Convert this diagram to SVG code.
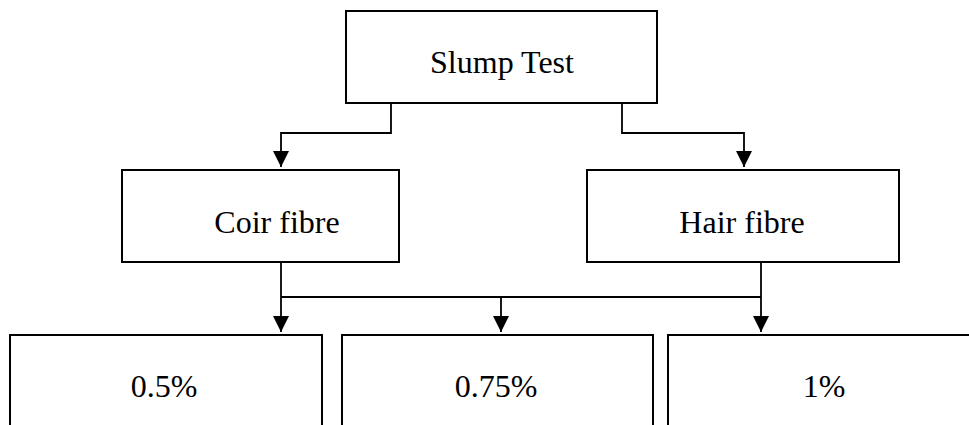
<svg xmlns="http://www.w3.org/2000/svg" width="969" height="425" viewBox="0 0 969 425">
<style>
.box{fill:#fff;stroke:#000;stroke-width:2}
.lbl{font-family:"Liberation Serif","Times New Roman",serif;font-size:32px;fill:#000;text-anchor:middle}
.con{fill:none;stroke:#000;stroke-width:1.8}
</style>
<defs>
<marker id="arr" viewBox="0 0 16 16" markerWidth="16" markerHeight="16" refX="16" refY="8" orient="auto" markerUnits="userSpaceOnUse">
<path d="M0,0 L16,8 L0,16 z" fill="#000"/>
</marker>
</defs>
<rect width="969" height="425" fill="#fff"/>
<g id="connectors">
<path class="con" d="M391,103 V133 H281 V167" marker-end="url(#arr)"/>
<path class="con" d="M622,103 V133 H744 V167" marker-end="url(#arr)"/>
<path class="con" d="M281,262 V332" marker-end="url(#arr)"/>
<path class="con" d="M761,262 V332" marker-end="url(#arr)"/>
<path class="con" d="M281,297 H761"/>
<path class="con" d="M501,297 V332" marker-end="url(#arr)"/>
</g>
<g id="slump">
<rect class="box" x="346" y="11" width="311" height="92"/>
<text class="lbl" x="502" y="73">Slump Test</text>
</g>
<g id="coir">
<rect class="box" x="122" y="170" width="277" height="92"/>
<text class="lbl" x="277" y="233">Coir fibre</text>
</g>
<g id="hair">
<rect class="box" x="587" y="170" width="312" height="92"/>
<text class="lbl" x="742" y="233">Hair fibre</text>
</g>
<g id="p05">
<rect class="box" x="10" y="335" width="312" height="100"/>
<text class="lbl" x="164" y="397">0.5%</text>
</g>
<g id="p075">
<rect class="box" x="342" y="335" width="311" height="100"/>
<text class="lbl" x="496" y="397">0.75%</text>
</g>
<g id="p1">
<rect class="box" x="668" y="335" width="312" height="100"/>
<text class="lbl" x="824" y="397">1%</text>
</g>
</svg>
